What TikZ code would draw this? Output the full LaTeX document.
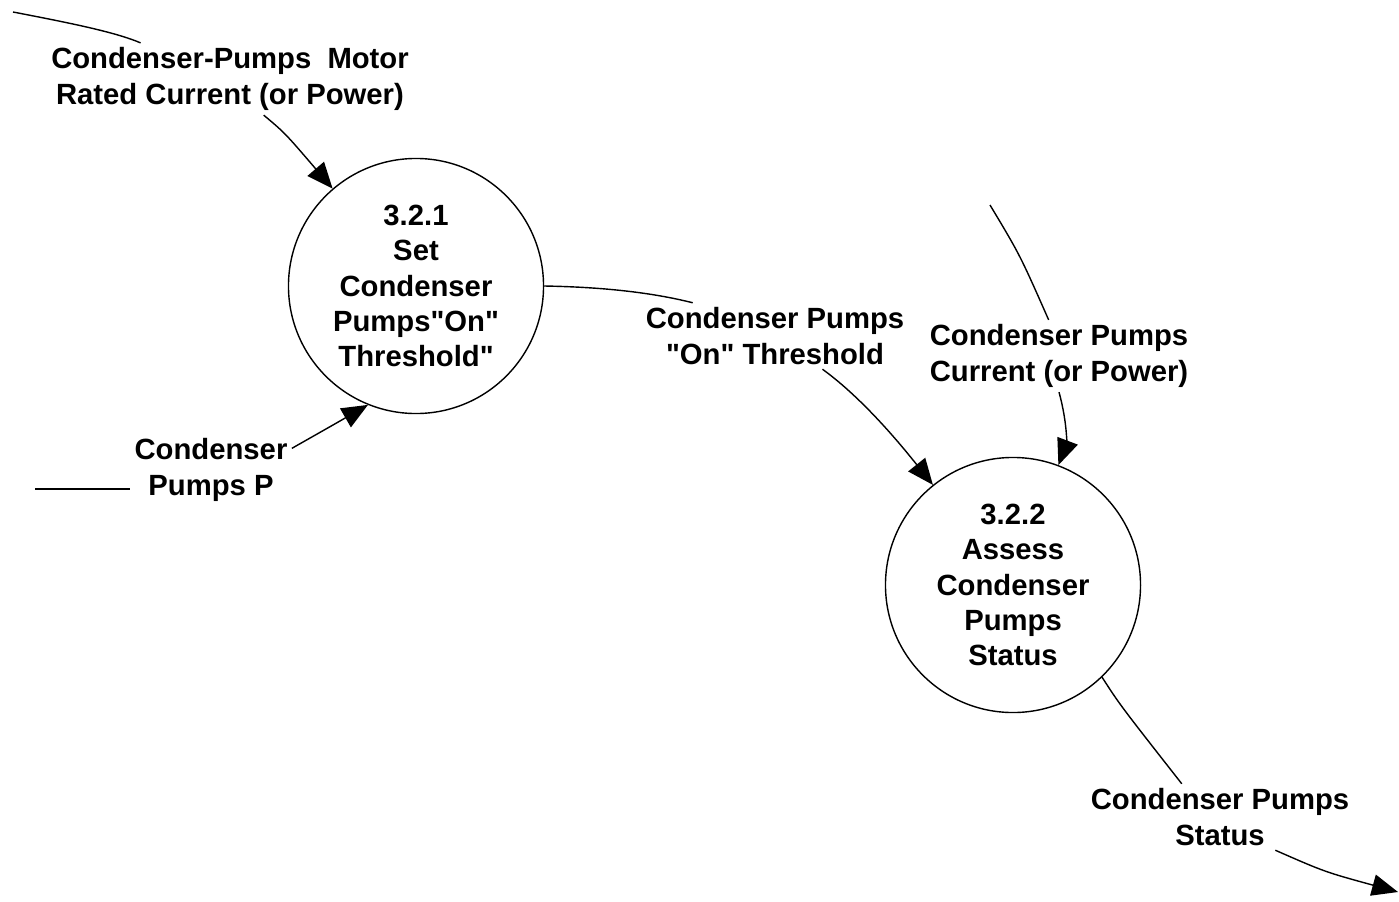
\documentclass[tikz,border=0pt]{standalone}
\usepackage{fontspec}
\setmainfont{Liberation Sans}[Ligatures=TeXOff]
\usepackage{tikz}
\usetikzlibrary{arrows.meta,shapes}
\tikzset{
  procbox/.style ={draw=black, circle, line width=1pt, minimum size=6.375cm,
                   inner sep=0pt, align=center,
                   font=\bfseries\fontsize{20.8}{25}\selectfont},
  flowlbl/.style ={align=center, inner sep=3pt,
                   font=\bfseries\fontsize{20.8}{25.6}\selectfont},
  flowline/.style={line width=1pt},
  flowarr/.style ={-{Triangle[length=6.5mm,width=5.4mm]}, line width=1pt},
}
\begin{document}
\begin{tikzpicture}[x=0.025cm,y=-0.025cm]
    \useasboundingbox (0,0) rectangle (1399,901);
    \node[procbox] (setthr) at (416,286) {3.2.1\\Set\\Condenser\\Pumps"On"\\Threshold"};
    \node[procbox] (assess) at (1013,585) {3.2.2\\Assess\\Condenser\\Pumps\\Status};

    \node[flowlbl] (motorlbl) at (230,79) {Condenser-Pumps~~Motor\\Rated Current (or Power)};
    \node[flowlbl] (pumpplbl) at (211,470) {Condenser\\Pumps P};
    \node[flowlbl] (thrlbl) at (775,336) {Condenser Pumps\\"On" Threshold};
    \node[flowlbl] (curlbl) at (1059,356) {Condenser Pumps\\Current (or Power)};
    \node[flowlbl] (statlbl) at (1220,817) {Condenser Pumps\\Status};

    \coordinate (motorsrc) at (13,12);
    \coordinate (pumppsrc) at (35,489);
    \coordinate (cursrc) at (990,205);
    \coordinate (statdst) at (1398,892);

    \draw[flowline] (motorsrc) .. controls (70,23) and (115,32) .. (motorlbl.158);
    \draw[flowarr] (motorlbl.-47) .. controls (285,133) .. (setthr);
    \draw[flowline] (pumppsrc) -- (pumppsrc -| pumpplbl.west);
    \draw[flowarr] (pumpplbl.15) .. controls (333,425) .. (setthr.-112);
    \draw[flowline] (setthr.east) .. controls (600,287) and (650,292) .. (thrlbl.158);
    \draw[flowarr] (thrlbl.-35) .. controls (865,400) and (905,450) .. (assess);
    \draw[flowline] (cursrc) .. controls (1020,255) .. (curlbl.106);
    \draw[flowarr] (curlbl.south) .. controls (1068,425) and (1066,445) .. (assess);
    \draw[flowline] (assess.-46) .. controls (1120,705) .. (statlbl.139);
    \draw[flowarr] (statlbl.-31) .. controls (1325,872) .. (statdst);
  \end{tikzpicture}
\end{document}
